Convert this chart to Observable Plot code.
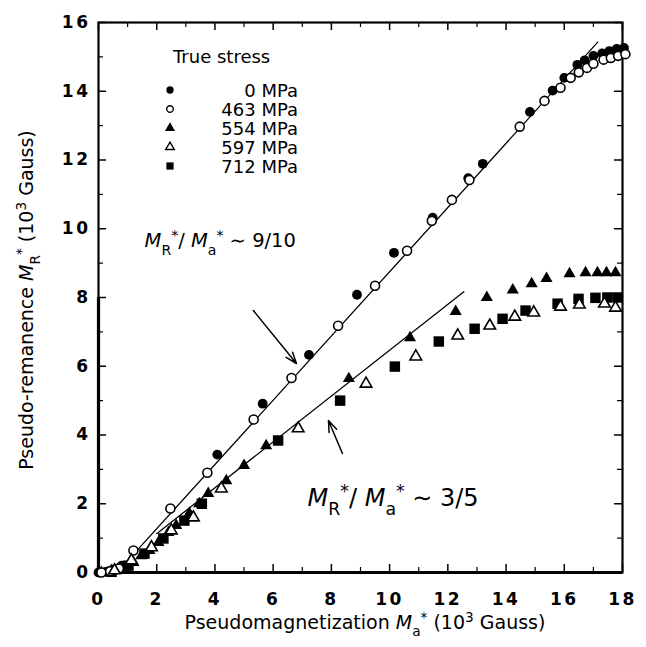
<!DOCTYPE html>
<html><head><meta charset="utf-8">
<script src="https://cdn.jsdelivr.net/npm/d3@7"></script>
<script src="https://cdn.jsdelivr.net/npm/@observablehq/plot@0.6"></script>
<style>
body{margin:0;background:#fff;}
#chart svg{font-family:"DejaVu Sans",Arial,sans-serif;}
#chart g[aria-label$="tick label"] text{letter-spacing:2.5px;}
</style></head><body><div id="chart"></div>
<script>
// ---- data (10^3 Gauss) ----
const seriesNames = ["0 MPa", "463 MPa", "554 MPa", "597 MPa", "712 MPa"];
const mpa0X = [0, 0.25, 0.5, 0.8, 4.08, 5.64, 7.23, 8.88, 10.15, 11.48, 12.7, 13.2, 14.82, 15.6, 16.0, 16.45, 16.7, 17.0, 17.3, 17.55, 17.8, 18.05];
const mpa0Y = [0, 0.02, 0.08, 0.2, 3.43, 4.91, 6.33, 8.08, 9.3, 10.32, 11.47, 11.89, 13.4, 14.02, 14.39, 14.77, 14.9, 15.03, 15.1, 15.17, 15.23, 15.26];
const mpa463X = [0.1, 0.4, 0.7, 1.2, 2.47, 3.74, 5.33, 6.63, 8.23, 9.5, 10.6, 11.45, 12.14, 12.74, 14.47, 15.32, 15.87, 16.22, 16.5, 16.78, 17.0, 17.35, 17.6, 17.85, 18.1];
const mpa463Y = [0, 0.04, 0.12, 0.64, 1.86, 2.9, 4.45, 5.66, 7.18, 8.34, 9.36, 10.23, 10.84, 11.42, 12.97, 13.72, 14.1, 14.39, 14.55, 14.68, 14.8, 14.92, 14.97, 15.03, 15.08];
const mpa554X = [0.1, 0.45, 0.86, 1.2, 1.47, 1.75, 2.06, 2.4, 2.67, 3.12, 3.46, 3.77, 4.39, 5.0, 5.76, 8.6, 10.7, 12.27, 13.34, 14.23, 14.88, 15.39, 16.18, 16.73, 17.14, 17.45, 17.76];
const mpa554Y = [0, 0.06, 0.15, 0.29, 0.49, 0.64, 0.87, 1.16, 1.37, 1.72, 2.0, 2.3, 2.67, 3.11, 3.69, 5.64, 6.83, 7.59, 8.0, 8.22, 8.4, 8.55, 8.69, 8.72, 8.72, 8.72, 8.72];
const mpa597X = [0.55, 1.13, 1.82, 2.5, 3.26, 4.22, 6.86, 9.19, 10.9, 12.34, 13.44, 14.3, 14.95, 15.87, 16.52, 17.38, 17.76];
const mpa597Y = [0.06, 0.35, 0.73, 1.22, 1.6, 2.44, 4.19, 5.49, 6.28, 6.89, 7.18, 7.44, 7.56, 7.73, 7.79, 7.82, 7.7];
const mpa712X = [0.45, 1.03, 1.58, 2.23, 2.95, 3.55, 6.17, 8.3, 10.18, 11.69, 12.92, 13.88, 14.67, 15.77, 16.49, 17.07, 17.48, 17.83];
const mpa712Y = [0.02, 0.2, 0.55, 0.99, 1.51, 2.0, 3.84, 5.0, 5.99, 6.72, 7.09, 7.38, 7.62, 7.82, 7.96, 7.99, 8.0, 8.0];

// fitted lines
const fitUpperX = [1.3, 17.15], fitUpperY = [0.62, 15.43];
const fitLowerX = [2.0, 12.55], fitLowerY = [1.13, 8.17];
// annotation arrows [x1,y1,x2,y2]
const arrowsData = [[5.32, 7.62, 6.8, 6.08], [8.38, 3.46, 7.9, 4.42]];

const xTicks = d3.range(0, 19, 2), xMinor = d3.range(1, 18, 2);
const yTicks = d3.range(0, 17, 2), yMinor = d3.range(1, 16, 2);

const toRows = (xs, ys, s) => xs.map((x, i) => ({x, y: ys[i], s}));
const d0 = toRows(mpa0X, mpa0Y, seriesNames[0]);
const d463 = toRows(mpa463X, mpa463Y, seriesNames[1]);
const d554 = toRows(mpa554X, mpa554Y, seriesNames[2]);
const d597 = toRows(mpa597X, mpa597Y, seriesNames[3]);
const d712 = toRows(mpa712X, mpa712Y, seriesNames[4]);
const upper = toRows(fitUpperX, fitUpperY, "upper");
const lower = toRows(fitLowerX, fitLowerY, "lower");

const W = 646, H = 647, mL = 98, mR = 24, mT = 22, mB = 75;
const pw = W - mL - mR, ph = H - mT - mB;

const plot = Plot.plot({
  width: W, height: H,
  marginLeft: mL, marginRight: mR, marginTop: mT, marginBottom: mB,
  style: {fontFamily: "DejaVu Sans, Arial, sans-serif", background: "#fff"},
  x: {domain: [0, 18]},
  y: {domain: [0, 16]},
  marks: [
    Plot.axisX(xTicks, {tickSize: 0, tickPadding: 20, fontSize: 17, fontWeight: "bold", label: null}),
    Plot.axisY(yTicks, {tickSize: 0, tickPadding: 8, fontSize: 17, fontWeight: "bold", label: null}),
    // inward ticks
    Plot.tickX(xTicks, {x: d => d, insetTop: ph - 8, strokeWidth: 1.5}),
    Plot.tickX(xMinor, {x: d => d, insetTop: ph - 5, strokeWidth: 1.2}),
    Plot.tickX(xTicks, {x: d => d, insetBottom: ph - 8, strokeWidth: 1.5}),
    Plot.tickX(xMinor, {x: d => d, insetBottom: ph - 5, strokeWidth: 1.2}),
    Plot.tickY(yTicks, {y: d => d, insetRight: pw - 8, strokeWidth: 1.5}),
    Plot.tickY(yMinor, {y: d => d, insetRight: pw - 5, strokeWidth: 1.2}),
    Plot.tickY(yTicks, {y: d => d, insetLeft: pw - 8, strokeWidth: 1.5}),
    Plot.tickY(yMinor, {y: d => d, insetLeft: pw - 5, strokeWidth: 1.2}),
    Plot.frame({stroke: "#000", strokeWidth: 2.2}),
    Plot.ruleX([0], {y1: 0, y2: 8, strokeWidth: 3.2}),
    Plot.ruleY([0], {x1: 0, x2: 18, strokeWidth: 2.8}),
    // fits
    Plot.line(upper, {x: "x", y: "y", stroke: "#000", strokeWidth: 1.3}),
    Plot.line(lower, {x: "x", y: "y", stroke: "#000", strokeWidth: 1.3}),
    Plot.arrow(arrowsData, {x1: d => d[0], y1: d => d[1], x2: d => d[2], y2: d => d[3], stroke: "#000", strokeWidth: 1.5, headLength: 12, headAngle: 40, bend: 0}),
    // data
    Plot.dot(d0, {x: "x", y: "y", symbol: "circle", r: 4.9, fill: "#000", stroke: "none"}),
    Plot.dot(d554, {x: "x", y: "y", symbol: "triangle", r: 4.5, fill: "#000", stroke: "none"}),
    Plot.dot(d712, {x: "x", y: "y", symbol: "square", r: 5.9, fill: "#000", stroke: "none"}),
    Plot.dot(d463, {x: "x", y: "y", symbol: "circle", r: 4.5, fill: "#fff", stroke: "#000", strokeWidth: 1.6}),
    Plot.dot(d597, {x: "x", y: "y", symbol: "triangle", r: 4.3, fill: "#fff", stroke: "#000", strokeWidth: 1.6})
  ]
});

document.getElementById("chart").appendChild(plot);

// ---- rich text (subscripts / superscripts) through the plot's scales ----
const svg = d3.select(plot);
const sx = plot.scale("x"), sy = plot.scale("y");
const g = svg.append("g").attr("fill", "#000").attr("text-anchor", "start");

function rich(x, y, parts, size, anchor = "start", rotate = 0, weight = "normal") {
  const t = g.append("text")
    .attr("transform", `translate(${x},${y}) rotate(${rotate})`)
    .attr("text-anchor", anchor).attr("font-size", size).attr("font-weight", weight);
  let cur = 0;
  for (const p of parts) {
    const target = p.s === "sub" ? size * 0.38 : p.s === "sup" ? -size * 0.38 : 0;
    const ts = t.append("tspan").text(p.t).attr("dy", target - cur);
    cur = target;
    if (p.s) ts.attr("font-size", size * 0.72);
    if (p.i) ts.attr("font-style", "italic");
  }
  return t;
}

// axis titles
rich(365, 629, [{t: "Pseudomagnetization "}, {t: "M", i: 1}, {t: "a", s: "sub"}, {t: "*", s: "sup"}, {t: " (10"}, {t: "3", s: "sup"}, {t: " Gauss)"}], 19, "middle");
rich(33, 300, [{t: "Pseudo-remanence "}, {t: "M", i: 1}, {t: "R", s: "sub"}, {t: "*", s: "sup"}, {t: " (10"}, {t: "3", s: "sup"}, {t: " Gauss)"}], 19, "middle", -90);

// annotations
rich(sx.apply(1.6), sy.apply(9.45), [{t: "M", i: 1}, {t: "R", s: "sub"}, {t: "*", s: "sup"}, {t: "/ "}, {t: "M", i: 1}, {t: "a", s: "sub"}, {t: "*", s: "sup"}, {t: " ∼ 9/10"}], 19.5);
rich(sx.apply(7.2), sy.apply(1.92), [{t: "M", i: 1}, {t: "R", s: "sub"}, {t: "*", s: "sup"}, {t: "/ "}, {t: "M", i: 1}, {t: "a", s: "sub"}, {t: "*", s: "sup"}, {t: " ∼ 3/5"}], 24);

// legend
const leg = g.append("g");
leg.append("text").attr("x", 173).attr("y", 63).attr("font-size", 18).attr("text-anchor", "start").text("True stress");
const legSyms = [
  {sym: d3.symbolCircle, fill: "#000", stroke: "none", size: 42},
  {sym: d3.symbolCircle, fill: "#fff", stroke: "#000", size: 34},
  {sym: d3.symbolTriangle, fill: "#000", stroke: "none", size: 44},
  {sym: d3.symbolTriangle, fill: "#fff", stroke: "#000", size: 32},
  {sym: d3.symbolSquare, fill: "#000", stroke: "none", size: 52}
];
seriesNames.forEach((name, i) => {
  const yy = 90 + i * 19;
  const s = legSyms[i];
  leg.append("path").attr("d", d3.symbol(s.sym, s.size)()).attr("transform", `translate(170,${yy})`)
    .attr("fill", s.fill).attr("stroke", s.stroke).attr("stroke-width", 1.4);
  leg.append("text").attr("x", 298).attr("y", yy + 6.5).attr("text-anchor", "end").attr("font-size", 18).text(name);
});
</script>
</body></html>
